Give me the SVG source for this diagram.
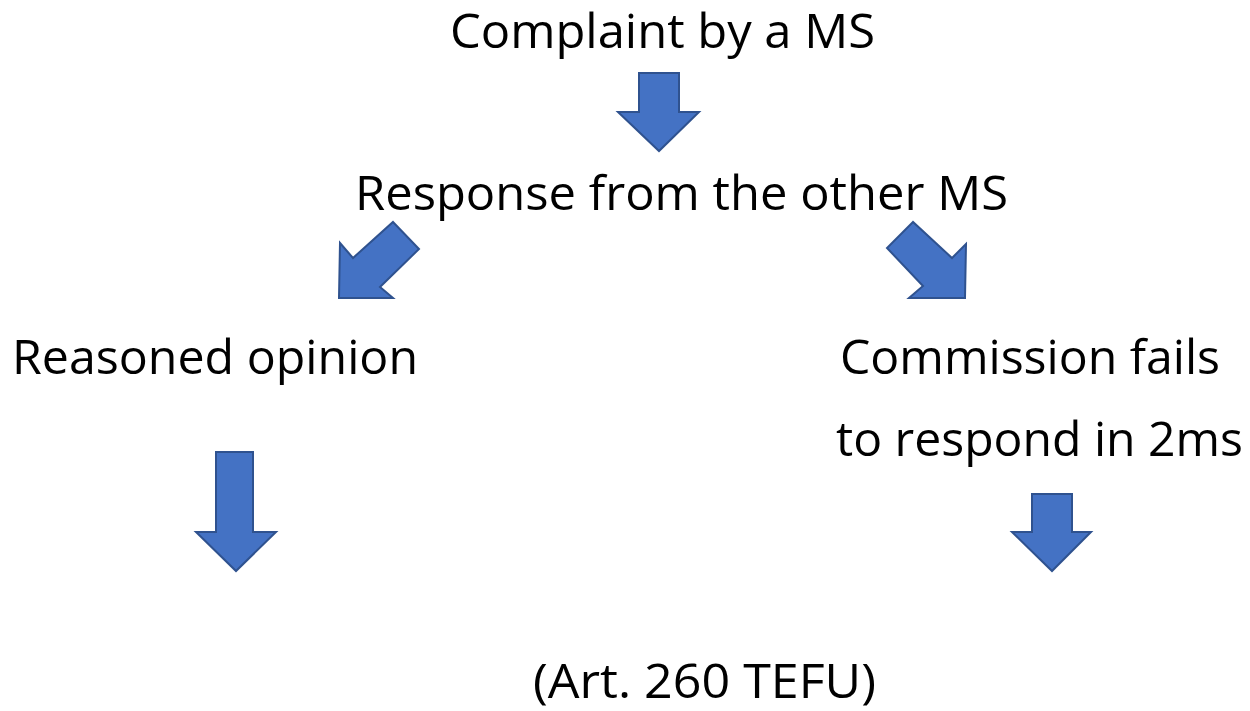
<svg xmlns="http://www.w3.org/2000/svg" width="1250" height="711" viewBox="0 0 1250 711">
<style>
.t{font-family:"Open Sans","Liberation Sans",sans-serif;font-size:48px;fill:#000}
.a{fill:#4472C4;stroke:#2F528F;stroke-width:2;stroke-linejoin:miter}
</style>
<rect width="1250" height="711" fill="#fff"/>
<g id="complaint"><text class="t" x="450" y="48" textLength="425" lengthAdjust="spacingAndGlyphs">Complaint by a MS</text></g>
<g id="response"><text class="t" x="355" y="210" textLength="653" lengthAdjust="spacingAndGlyphs">Response from the other MS</text></g>
<g id="reasoned"><text class="t" x="12" y="374" textLength="406" lengthAdjust="spacingAndGlyphs">Reasoned opinion</text></g>
<g id="commission"><text class="t" x="840" y="374" textLength="380" lengthAdjust="spacingAndGlyphs">Commission fails</text><text class="t" x="836" y="456" textLength="407" lengthAdjust="spacingAndGlyphs">to respond in 2ms</text></g>
<g id="art"><text class="t" x="533" y="698" textLength="343" lengthAdjust="spacingAndGlyphs">(Art. 260 TEFU)</text></g>
<g id="connectors">
<polygon class="a" points="639,73 679,73 679,112 699,112 659,151 618,112 639,112"/>
<polygon class="a" points="393,222 419,249 380,287 393,298 339,298 340,243 353,258"/>
<polygon class="a" points="913,222 887,248 923,286 909,298 965,298 966,244 952,258"/>
<polygon class="a" points="216,452 253,452 253,532 276,532 236,571 196,532 216,532"/>
<polygon class="a" points="1032,494 1072,494 1072,532 1091,532 1052,571 1012,532 1032,532"/>
</g>
</svg>
